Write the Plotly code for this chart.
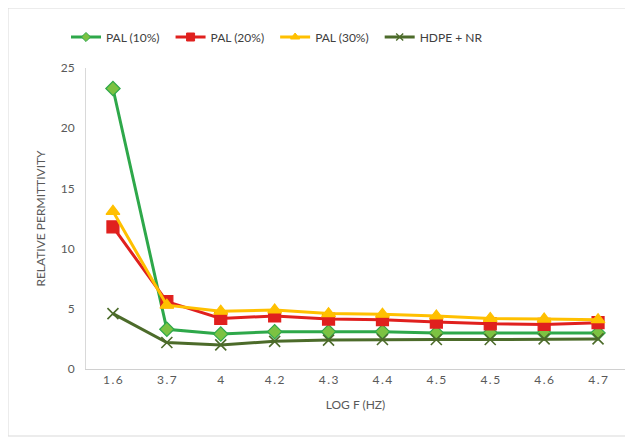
import plotly.graph_objects as go

categories = ["1.6", "3.7", "4", "4.2", "4.3", "4.4", "4.5", "4.5", "4.6", "4.7"]
pal10 = [23.3, 3.3, 2.9, 3.1, 3.1, 3.1, 3.0, 3.0, 3.0, 3.0]
pal20 = [11.8, 5.6, 4.2, 4.4, 4.15, 4.1, 3.9, 3.75, 3.7, 3.85]
pal30 = [13.1, 5.3, 4.8, 4.9, 4.6, 4.55, 4.4, 4.2, 4.15, 4.1]
hdpe = [4.6, 2.2, 2.0, 2.3, 2.4, 2.45, 2.45, 2.45, 2.5, 2.5]
y_ticks = [0, 5, 10, 15, 20, 25]

xs = list(range(len(categories)))
ticktext = ["\u2009.\u2009".join(c.split(".")) if "." in c else c for c in categories]

# page has an 8px body margin; work in page coordinates and convert
OFF = 8
W, H = 633 - OFF, 440 - OFF
L, R, T, B = 86 - OFF, 625 - OFF, 68 - OFF, 369 - OFF


def px(x):
    return (x - OFF - L) / (R - L)


def py(y):
    return (B - (y - OFF)) / (B - T)


series = [
    ("PAL (10%)", pal10, "#2EA84A", dict(symbol="diamond", color="#7CC242", lc="#2EA84A", s=11, ls=7)),
    ("PAL (20%)", pal20, "#E0201E", dict(symbol="square", color="#E0201E", lc="#E0201E", s=12, ls=8)),
    ("PAL (30%)", pal30, "#FFC000", dict(symbol="triangle-up", color="#FFC000", lc="#FFC000", s=12, ls=8)),
    ("HDPE + NR", hdpe, "#4C6B2A", dict(symbol="x-thin", color="#4C6B2A", lc="#4C6B2A", s=11, ls=7)),
]

fig = go.Figure()
for name, vals, col, m in series:
    fig.add_trace(go.Scatter(
        x=xs, y=vals, name=name, mode="lines+markers", showlegend=False,
        legendgroup=name,
        line=dict(color=col, width=3),
        marker=dict(symbol=m["symbol"], size=m["s"], color=m["color"],
                    line=dict(color=m["lc"], width=1.6 if m["symbol"] == "x-thin" else 1.2))))
for name, vals, col, m in series:
    fig.add_trace(go.Scatter(
        x=[None], y=[None], name=name + "\u2002", mode="lines+markers", showlegend=True,
        legendgroup=name,
        line=dict(color=col, width=3),
        marker=dict(symbol=m["symbol"], size=m["ls"], color=m["color"],
                    line=dict(color=m["lc"], width=1.4 if m["symbol"] == "x-thin" else 1))))

fig.update_layout(
    width=W, height=H,
    margin=dict(l=L, r=W - R, t=T, b=H - B, pad=0, autoexpand=False),
    paper_bgcolor="white", plot_bgcolor="white",
    font=dict(family="Lato, Open Sans, sans-serif", color="#595959", size=12),
    showlegend=True,
    legend=dict(orientation="h", x=px(66), xanchor="left", y=py(37), yanchor="middle",
                font=dict(size=12, color="#404040"),
                bgcolor="rgba(0,0,0,0)"),
    xaxis=dict(
        range=[-0.5, len(categories) - 0.5], automargin=False,
        tickmode="array", tickvals=xs, ticktext=ticktext,
        showgrid=False, zeroline=False, showline=True,
        linecolor="#D0D0D0", linewidth=1, ticks="",
        tickfont=dict(size=12, color="#595959"),
        title=dict(text="LOG F (HZ)", font=dict(size=12, color="#595959"), standoff=14),
    ),
    yaxis=dict(
        range=[0, 25], tickmode="array", tickvals=y_ticks, automargin=False,
        showgrid=False, zeroline=False, showline=True,
        linecolor="#D9D9D9", linewidth=1, ticks="",
        tickfont=dict(size=12, color="#595959"),
        ticklabelstandoff=8,
        title=dict(text="RELATIVE PERMITTIVITY", font=dict(size=12, color="#595959"), standoff=12),
    ),
    shapes=[dict(type="rect", xref="paper", yref="paper",
                 x0=px(8), x1=px(630), y0=py(436), y1=py(8),
                 line=dict(color="#D9D9D9", width=1), layer="below")],
)

fig.write_html("out.html")
